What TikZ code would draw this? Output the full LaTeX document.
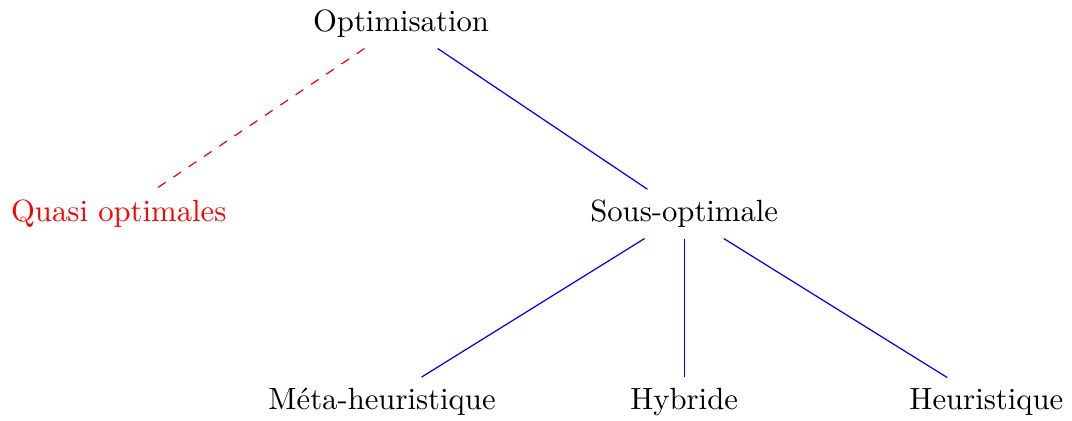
\documentclass[tikz,border=0pt]{standalone}
\begin{document}
\begin{tikzpicture}[
  lbl/.style={anchor=base},
  solidedge/.style={draw=blue},
  quasiedge/.style={draw=red,dashed}
]
\useasboundingbox (0,0) rectangle (12.27,-4.81);
\node[lbl] (opt) at (4.59,-0.363) {Optimisation};
\node[lbl,text=red] (quasi) at (1.359,-2.538) {Quasi optimales};
\node[lbl] (sous) at (7.831,-2.538) {Sous-optimale};
\node[lbl] (meta) at (4.373,-4.686) {Méta-heuristique};
\node[lbl] (hyb) at (7.831,-4.686) {Hybride};
\node[lbl] (heur) at (11.29,-4.686) {Heuristique};
\draw[quasiedge] (opt) -- (quasi);
\draw[solidedge] (opt) -- (sous);
\draw[solidedge] (sous) -- (meta);
\draw[solidedge] (sous) -- (hyb);
\draw[solidedge] (sous) -- (heur);
\end{tikzpicture}
\end{document}
